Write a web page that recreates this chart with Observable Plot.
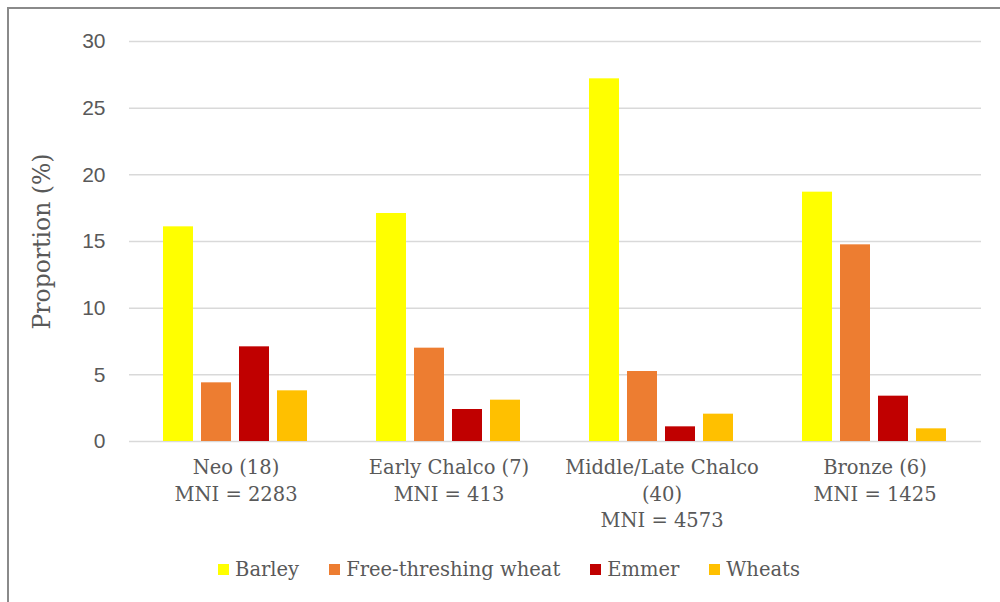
<!DOCTYPE html>
<html>
<head>
<meta charset="utf-8">
<script src="https://cdn.jsdelivr.net/npm/d3@7"></script>
<script src="https://cdn.jsdelivr.net/npm/@observablehq/plot@0.6"></script>
<style>
  html, body { margin: 0; padding: 0; background: #fff; }
  #wrap { position: relative; width: 1000px; height: 602px; overflow: hidden; background: #fff; }
  #frame { position: absolute; left: 7px; top: 7px; right: -10px; bottom: -10px; border-left: 2px solid #8a8a8a; border-top: 2px solid #8a8a8a; pointer-events: none; }
  #chart { position: absolute; left: 0; top: 0; }
  #chart svg { font-family: "DejaVu Serif", serif !important; }
  #legend { position: absolute; left: 9px; top: 558px; width: 1000px; display: flex; justify-content: center; align-items: center;
            font-family: "DejaVu Serif", serif; font-size: 19.5px; color: #595959; }
  #legend .item { display: flex; align-items: center; margin: 0 15px; }
  #legend .sw { width: 11px; height: 11px; margin-right: 6px; }
  #chart svg g[aria-label="y-axis tick label"] { font-family: "Liberation Sans", sans-serif; }
</style>
</head>
<body>
<div id="wrap">
  <div id="chart"></div>
  <div id="legend"></div>
  <div id="frame"></div>
</div>
<script>
const periods = ["Neo", "Early Chalco", "Middle/Late Chalco", "Bronze"];
const periodLabels = [
  "Neo (18)\nMNI = 2283",
  "Early Chalco (7)\nMNI = 413",
  "Middle/Late Chalco\n(40)\nMNI = 4573",
  "Bronze (6)\nMNI = 1425"
];
const grains = ["Barley", "Free-threshing wheat", "Emmer", "Wheats"];
const grainColors = ["#FFFF00", "#ED7D31", "#C00000", "#FFC000"];
const barley = [16.1, 17.1, 27.2, 18.7];
const freeThreshing = [4.4, 7.0, 5.25, 14.75];
const emmer = [7.1, 2.4, 1.1, 3.4];
const wheats = [3.8, 3.1, 2.05, 0.95];
const yTicks = [0, 5, 10, 15, 20, 25, 30];

const series = [barley, freeThreshing, emmer, wheats];
const data = [];
periods.forEach((p, i) => grains.forEach((g, j) => data.push({period: p, grain: g, value: series[j][i]})));
const labelOf = new Map(periods.map((p, i) => [p, periodLabels[i]]));

const chart = Plot.plot({
  width: 1000,
  height: 545,
  marginLeft: 127,
  marginRight: 18,
  marginTop: 41,
  marginBottom: 104,
  style: {fontSize: "19.5px", color: "#595959", background: "transparent"},
  fx: {domain: periods, padding: 0},
  x: {domain: grains, paddingInner: 0.2, paddingOuter: 0.84, axis: null},
  y: {domain: [0, 30]},
  color: {domain: grains, range: grainColors},
  marks: [
    Plot.ruleY(yTicks, {stroke: "#d9d9d9", strokeWidth: 1.5}),
    Plot.barY(data, {fx: "period", x: "grain", y: "value", fill: "grain"}),
    Plot.axisY({ticks: yTicks, tickSize: 0, tickPadding: 24, label: null, fontSize: 21, fill: "#595959"}),
    Plot.axisY({ticks: [], label: "Proportion (%)", labelAnchor: "center", labelArrow: "none", labelOffset: 96, fontSize: 23.5, fill: "#595959"}),
    Plot.axisFx({anchor: "bottom", tickSize: 0, tickPadding: 14, label: null, tickFormat: d => labelOf.get(d), lineHeight: 1.35, fontSize: 19.5, fill: "#595959"})
  ]
});
document.getElementById("chart").appendChild(chart);

const legend = document.getElementById("legend");
grains.forEach((g, i) => {
  const item = document.createElement("div");
  item.className = "item";
  const sw = document.createElement("span");
  sw.className = "sw";
  sw.style.background = grainColors[i];
  const t = document.createElement("span");
  t.textContent = g;
  item.appendChild(sw);
  item.appendChild(t);
  legend.appendChild(item);
});
</script>
</body>
</html>
